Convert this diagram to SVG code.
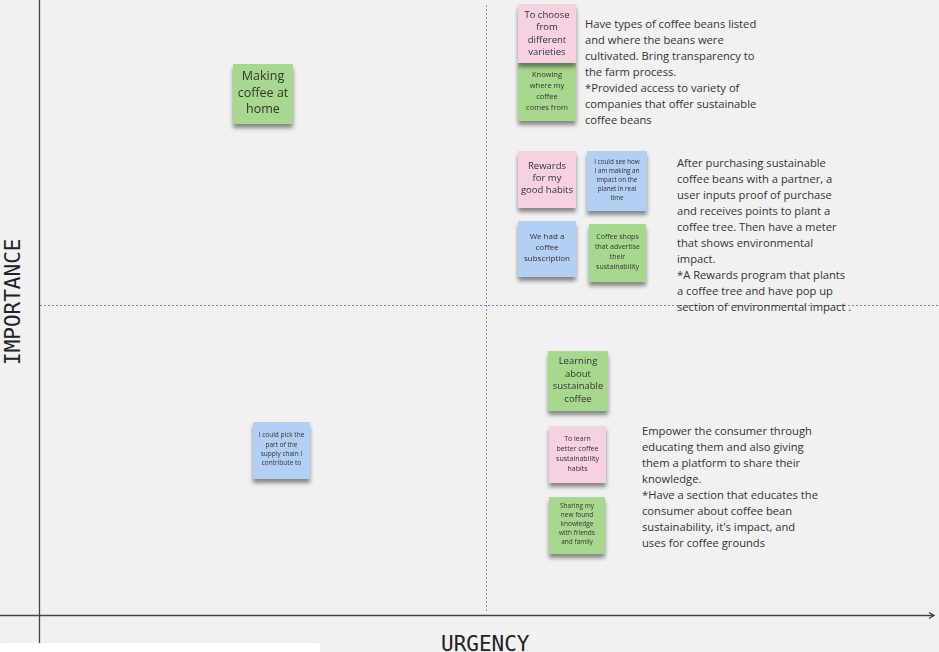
<svg xmlns="http://www.w3.org/2000/svg" width="939" height="652" viewBox="0 0 939 652">
<defs>
<filter id="sh" x="-20%" y="-20%" width="140%" height="150%">
<feGaussianBlur in="SourceAlpha" stdDeviation="2"/>
<feOffset dx="0" dy="4" result="b"/>
<feComponentTransfer><feFuncA type="linear" slope="0.45"/></feComponentTransfer>
<feMerge><feMergeNode/><feMergeNode in="SourceGraphic"/></feMerge>
</filter>
<marker id="arr" markerWidth="8" markerHeight="8" refX="6" refY="4" orient="auto" markerUnits="userSpaceOnUse">
<path d="M1,1 L6,4 L1,7" fill="none" stroke="#444" stroke-width="1.3"/>
</marker>
<style>
.g{fill:#a8d88e}.p{fill:#f6d1e1}.b{fill:#b4cff4}
.nt{font-family:"Open Sans","Noto Sans",sans-serif;fill:#333;text-anchor:middle}
.body{font-family:"Open Sans","Noto Sans",sans-serif;fill:#333;font-size:11.2px}
.ax{font-family:"DejaVu Sans Mono","Liberation Mono",monospace;fill:#222;font-size:21px}
.dot{stroke:#8a8aa8;stroke-width:1;stroke-dasharray:2,2;fill:none}
</style>
</defs>
<rect width="939" height="652" fill="#f1f1f1"/>
<g id="axes">
<line class="dot" x1="486.5" y1="5" x2="486.5" y2="613"/>
<line class="dot" x1="40" y1="305.5" x2="939" y2="305.5"/>
<line x1="39.5" y1="0" x2="39.5" y2="652" stroke="#444" stroke-width="1.3"/>
<line x1="0" y1="615.5" x2="934" y2="615.5" stroke="#444" stroke-width="1.3" marker-end="url(#arr)"/>
<rect x="0" y="643" width="320" height="14" rx="3" fill="#fff"/>
<text class="ax" x="441" y="651">URGENCY</text>
<text class="ax" transform="translate(20,365) rotate(-90)">IMPORTANCE</text>
</g>
<g id="n1" filter="url(#sh)"><rect class="g" x="233" y="64" width="60" height="60"/>
<text class="nt" font-size="12.5"><tspan x="263" y="80">Making</tspan><tspan x="263" y="96.5">coffee at</tspan><tspan x="263" y="113">home</tspan></text></g>
<g id="n3" filter="url(#sh)"><rect class="g" x="518" y="62" width="58" height="59"/>
<text class="nt" font-size="7.5"><tspan x="547" y="77">Knowing</tspan><tspan x="547" y="88">where my</tspan><tspan x="547" y="99">coffee</tspan><tspan x="547" y="110">comes from</tspan></text></g>
<g id="n2" filter="url(#sh)"><rect class="p" x="518" y="4" width="58" height="59"/>
<text class="nt" font-size="9.5"><tspan x="547" y="18">To choose</tspan><tspan x="547" y="30">from</tspan><tspan x="547" y="43">different</tspan><tspan x="547" y="55">varieties</tspan></text></g>
<g id="n4" filter="url(#sh)"><rect class="p" x="518" y="151" width="58" height="57"/>
<text class="nt" font-size="9.5"><tspan x="547" y="169">Rewards</tspan><tspan x="547" y="181">for my</tspan><tspan x="547" y="193">good habits</tspan></text></g>
<g id="n5" filter="url(#sh)"><rect class="b" x="587" y="151" width="60" height="60"/>
<text class="nt" font-size="6.3"><tspan x="617" y="164">I could see how</tspan><tspan x="617" y="173">I am making an</tspan><tspan x="617" y="182">impact on the</tspan><tspan x="617" y="191">planet in real</tspan><tspan x="617" y="200">time</tspan></text></g>
<g id="n6" filter="url(#sh)"><rect class="b" x="518" y="221" width="58" height="56"/>
<text class="nt" font-size="8"><tspan x="547" y="239">We had a</tspan><tspan x="547" y="250">coffee</tspan><tspan x="547" y="261">subscription</tspan></text></g>
<g id="n7" filter="url(#sh)"><rect class="g" x="589" y="224" width="57" height="58"/>
<text class="nt" font-size="7"><tspan x="617.5" y="239">Coffee shops</tspan><tspan x="617.5" y="249">that advertise</tspan><tspan x="617.5" y="259">their</tspan><tspan x="617.5" y="269">sustainability</tspan></text></g>
<g id="n8" filter="url(#sh)"><rect class="g" x="548" y="351" width="60" height="60"/>
<text class="nt" font-size="9.5"><tspan x="578" y="364">Learning</tspan><tspan x="578" y="377">about</tspan><tspan x="578" y="389">sustainable</tspan><tspan x="578" y="402">coffee</tspan></text></g>
<g id="n9" filter="url(#sh)"><rect class="p" x="549" y="426" width="57" height="57"/>
<text class="nt" font-size="7"><tspan x="577.5" y="441">To learn</tspan><tspan x="577.5" y="451">better coffee</tspan><tspan x="577.5" y="461">sustainability</tspan><tspan x="577.5" y="471">habits</tspan></text></g>
<g id="n10" filter="url(#sh)"><rect class="g" x="549" y="497" width="56" height="57"/>
<text class="nt" font-size="6.5"><tspan x="577" y="508">Sharing my</tspan><tspan x="577" y="517">new found</tspan><tspan x="577" y="526">knowledge</tspan><tspan x="577" y="535">with friends</tspan><tspan x="577" y="544">and family</tspan></text></g>
<g id="n11" filter="url(#sh)"><rect class="b" x="253" y="422" width="57" height="57"/>
<text class="nt" font-size="6.5"><tspan x="281.5" y="437">I could pick the</tspan><tspan x="281.5" y="447">part of the</tspan><tspan x="281.5" y="456">supply chain I</tspan><tspan x="281.5" y="465">contribute to</tspan></text></g>
<g id="t1"><text class="body"><tspan x="585" y="28">Have types of coffee beans listed</tspan><tspan x="585" y="44">and where the beans were</tspan><tspan x="585" y="60">cultivated. Bring transparency to</tspan><tspan x="585" y="76">the farm process.</tspan><tspan x="585" y="92">*Provided access to  variety of</tspan><tspan x="585" y="108">companies that offer sustainable</tspan><tspan x="585" y="124">coffee beans</tspan></text></g>
<g id="t2"><text class="body"><tspan x="677" y="167">After purchasing sustainable</tspan><tspan x="677" y="183">coffee beans with a partner, a</tspan><tspan x="677" y="199">user inputs proof of purchase</tspan><tspan x="677" y="215">and receives points to plant a</tspan><tspan x="677" y="231">coffee tree. Then have a meter</tspan><tspan x="677" y="247">that shows environmental</tspan><tspan x="677" y="263">impact.</tspan><tspan x="677" y="279">*A Rewards program that plants</tspan><tspan x="677" y="295">a coffee tree and have pop up</tspan><tspan x="677" y="311">section of environmental impact .</tspan></text></g>
<g id="t3"><text class="body"><tspan x="642" y="435">Empower the consumer through</tspan><tspan x="642" y="451">educating them and also giving</tspan><tspan x="642" y="467">them a platform to share their</tspan><tspan x="642" y="483">knowledge.</tspan><tspan x="642" y="499">*Have a section that educates the</tspan><tspan x="642" y="515">consumer about coffee bean</tspan><tspan x="642" y="531">sustainability, it's impact, and</tspan><tspan x="642" y="547">uses for coffee grounds</tspan></text></g>
</svg>
